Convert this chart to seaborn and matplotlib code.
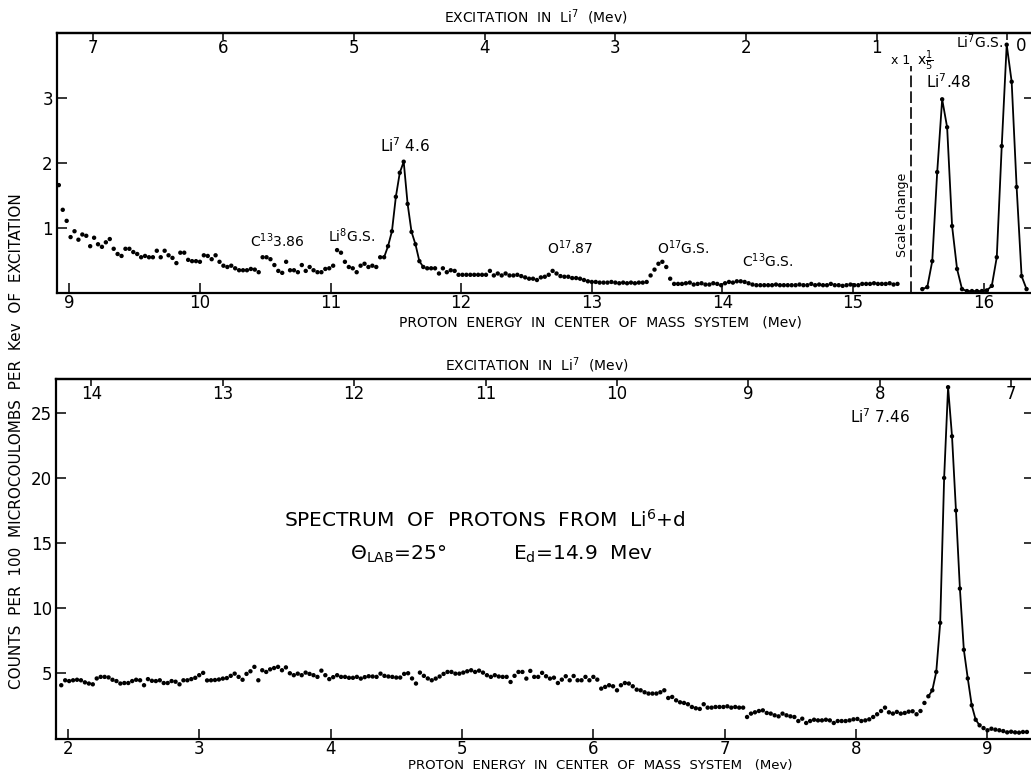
import numpy as np
import pandas as pd
import matplotlib
matplotlib.use("Agg")
import matplotlib.pyplot as plt
import seaborn as sns

# ---------------- data ----------------
# upper panel: proton energy grid start / step (MeV) and counts
top_E0 = 8.92
top_dE = 0.03
top_counts = [
    1.66, 1.28, 1.11, 0.86, 0.95, 0.82, 0.90, 0.88, 0.72, 0.85,
    0.75, 0.71, 0.78, 0.83, 0.68, 0.60, 0.57, 0.68, 0.68, 0.63,
    0.60, 0.55, 0.57, 0.55, 0.55, 0.65, 0.55, 0.65, 0.58, 0.54,
    0.46, 0.62, 0.62, 0.51, 0.49, 0.49, 0.48, 0.58, 0.57, 0.52,
    0.58, 0.48, 0.42, 0.40, 0.42, 0.38, 0.35, 0.35, 0.35, 0.37,
    0.36, 0.32, 0.55, 0.55, 0.52, 0.43, 0.34, 0.31, 0.48, 0.35,
    0.35, 0.32, 0.43, 0.34, 0.40, 0.35, 0.32, 0.32, 0.37, 0.38,
    0.42, 0.66, 0.62, 0.48, 0.40, 0.38, 0.32, 0.42, 0.45, 0.40,
    0.42, 0.40, 0.55, 0.55, 0.72, 0.95, 1.48, 1.85, 2.02, 1.37,
    0.94, 0.75, 0.49, 0.40, 0.38, 0.38, 0.38, 0.30, 0.38, 0.32,
    0.35, 0.34, 0.28, 0.28, 0.28, 0.28, 0.28, 0.28, 0.28, 0.28,
    0.34, 0.27, 0.30, 0.27, 0.30, 0.27, 0.27, 0.28, 0.26, 0.24,
    0.22, 0.22, 0.20, 0.24, 0.25, 0.28, 0.34, 0.30, 0.26, 0.25,
    0.25, 0.23, 0.23, 0.22, 0.20, 0.18, 0.17, 0.17, 0.16, 0.16,
    0.16, 0.17, 0.16, 0.15, 0.16, 0.15, 0.16, 0.15, 0.16, 0.16,
    0.17, 0.27, 0.36, 0.45, 0.48, 0.40, 0.22, 0.14, 0.14, 0.14,
    0.15, 0.16, 0.13, 0.14, 0.15, 0.13, 0.13, 0.15, 0.14, 0.12,
    0.15, 0.17, 0.16, 0.18, 0.18, 0.17, 0.15, 0.13, 0.12, 0.12,
    0.12, 0.12, 0.12, 0.13, 0.12, 0.12, 0.12, 0.12, 0.12, 0.13,
    0.12, 0.12, 0.14, 0.12, 0.13, 0.12, 0.12, 0.14, 0.12, 0.12,
    0.11, 0.12, 0.13, 0.12, 0.12, 0.14, 0.14, 0.14, 0.15, 0.14,
    0.14, 0.14, 0.15, 0.13, 0.14,
]
top_fit_range = (83, 94)          # points joined by the Li7 4.6 curve

# upper panel, x 1/5 region
scaled_E0 = 15.53
scaled_dE = 0.038
scaled_counts = [
    0.06, 0.09, 0.49, 1.86, 2.98, 2.55, 1.03, 0.37, 0.06, 0.03,
    0.03, 0.03, 0.03, 0.04, 0.11, 0.55, 2.26, 3.82, 3.25, 1.63,
    0.26, 0.06,
]
scale_change_E = 15.44

# lower panel
bot_E0 = 1.95
bot_dE = 0.03
bot_counts = [
    4.08, 4.46, 4.40, 4.46, 4.50, 4.46, 4.30, 4.21, 4.15, 4.60,
    4.72, 4.72, 4.68, 4.50, 4.40, 4.21, 4.25, 4.25, 4.40, 4.50,
    4.46, 4.08, 4.55, 4.42, 4.40, 4.46, 4.25, 4.25, 4.40, 4.35,
    4.15, 4.46, 4.46, 4.55, 4.65, 4.85, 5.03, 4.45, 4.46, 4.48,
    4.52, 4.59, 4.63, 4.80, 4.97, 4.72, 4.50, 4.95, 5.15, 5.49,
    4.46, 5.23, 5.10, 5.30, 5.40, 5.49, 5.23, 5.45, 5.00, 4.85,
    4.97, 4.85, 5.05, 4.95, 4.85, 4.72, 5.20, 4.85, 4.55, 4.70,
    4.85, 4.72, 4.72, 4.65, 4.65, 4.72, 4.59, 4.70, 4.77, 4.75,
    4.72, 4.97, 4.80, 4.75, 4.72, 4.67, 4.67, 4.95, 5.00, 4.60,
    4.21, 5.05, 4.80, 4.60, 4.46, 4.59, 4.75, 4.95, 5.10, 5.10,
    4.97, 4.97, 5.05, 5.15, 5.23, 5.10, 5.20, 5.05, 4.85, 4.72,
    4.85, 4.75, 4.72, 4.72, 4.33, 4.80, 5.10, 5.10, 4.59, 5.18,
    4.72, 4.72, 5.03, 4.77, 4.59, 4.66, 4.25, 4.51, 4.77, 4.46,
    4.79, 4.46, 4.46, 4.72, 4.46, 4.72, 4.51, 3.82, 3.95, 4.08,
    4.00, 3.69, 4.08, 4.25, 4.21, 4.00, 3.74, 3.69, 3.54, 3.44,
    3.44, 3.44, 3.54, 3.69, 3.10, 3.18, 2.92, 2.77, 2.72, 2.62,
    2.41, 2.31, 2.26, 2.62, 2.36, 2.36, 2.41, 2.41, 2.41, 2.46,
    2.36, 2.41, 2.36, 2.36, 1.64, 1.90, 2.00, 2.10, 2.15, 1.95,
    1.90, 1.77, 1.69, 1.90, 1.77, 1.69, 1.64, 1.33, 1.51, 1.18,
    1.33, 1.43, 1.38, 1.38, 1.43, 1.38, 1.18, 1.33, 1.33, 1.33,
    1.38, 1.46, 1.49, 1.33, 1.38, 1.46, 1.64, 1.85, 2.10, 2.36,
    2.00, 1.90, 2.03, 1.90, 1.95, 2.05, 2.08, 1.85, 2.10, 2.72,
    3.23, 3.69, 5.10, 8.87, 20.0, 26.97, 23.2, 17.5, 11.5, 6.8,
    4.60, 2.54, 1.43, 1.00, 0.79, 0.62, 0.74, 0.67, 0.62, 0.56,
    0.46, 0.51, 0.46, 0.44, 0.49, 0.49,
]
bot_fit_range = (220, 234)

top_xticks = [9, 10, 11, 12, 13, 14, 15, 16]
top_yticks = [1, 2, 3]
top_exc_ticks = [7, 6, 5, 4, 3, 2, 1, 0]
bot_xticks = [2, 3, 4, 5, 6, 7, 8, 9]
bot_yticks = [5, 10, 15, 20, 25]
bot_exc_ticks = [14, 13, 12, 11, 10, 9, 8, 7]
Q_VALUE = 16.18   # E_p + E_x

# ---------------- build frames ----------------
top_df = pd.DataFrame({"E": top_E0 + top_dE * np.arange(len(top_counts)),
                       "counts": top_counts})
sc_df = pd.DataFrame({"E": scaled_E0 + scaled_dE * np.arange(len(scaled_counts)),
                      "counts": scaled_counts})
bot_df = pd.DataFrame({"E": bot_E0 + bot_dE * np.arange(len(bot_counts)),
                       "counts": bot_counts})

sns.set_theme(style="ticks")
plt.rcParams["font.family"] = ["DejaVu Sans"]
plt.rcParams["mathtext.default"] = "regular"
for key in ["text.color", "axes.labelcolor", "xtick.color", "ytick.color",
            "axes.edgecolor"]:
    plt.rcParams[key] = "black"

W, H = 1031, 771
fig = plt.figure(figsize=(W / 100, H / 100), dpi=100)
fig.patch.set_facecolor("white")

ax1 = fig.add_axes([57 / W, 1 - 293 / H, (1034 - 57) / W, (293 - 33) / H])
ax2 = fig.add_axes([56 / W, 1 - 739 / H, (1034 - 56) / W, (739 - 379) / H])

dot_kw = dict(color="black", s=10, edgecolor="none", linewidth=0, legend=False)
line_kw = dict(color="black", lw=1.3, sort=False, estimator=None, legend=False)

# upper panel
sns.scatterplot(data=top_df, x="E", y="counts", ax=ax1, **dot_kw)
a, b = top_fit_range
sns.lineplot(data=top_df.iloc[a:b], x="E", y="counts", ax=ax1, **line_kw)
sns.scatterplot(data=sc_df, x="E", y="counts", ax=ax1, **dot_kw)
sns.lineplot(data=sc_df, x="E", y="counts", ax=ax1, **line_kw)
ax1.axvline(scale_change_E, ymin=0, ymax=3.50 / 4.0, color="black",
            lw=1.2, linestyle=(0, (7, 2.5)))

# lower panel
sns.scatterplot(data=bot_df, x="E", y="counts", ax=ax2, **dot_kw)
a, b = bot_fit_range
sns.lineplot(data=bot_df.iloc[a:b], x="E", y="counts", ax=ax2, **line_kw)

ax1.set_xlim(8.906, 16.385)
ax1.set_ylim(0, 4.0)
ax2.set_xlim(1.910, 9.354)
ax2.set_ylim(-0.05, 27.6)

for ax, xt, yt, exct in [(ax1, top_xticks, top_yticks, top_exc_ticks),
                         (ax2, bot_xticks, bot_yticks, bot_exc_ticks)]:
    ax.set_xlabel("")
    ax.set_ylabel("")
    ax.set_xticks(xt)
    ax.set_yticks(yt)
    ax.tick_params(direction="in", length=7, width=1.1, labelsize=12,
                   right=True, top=False, pad=3, colors="black")
    ax.tick_params(axis="x", pad=1)
    for sp in ax.spines.values():
        sp.set_linewidth(1.6)
        sp.set_color("black")
        sp.set_visible(True)
    sec = ax.secondary_xaxis("top", functions=(lambda e: Q_VALUE - e,
                                               lambda x: Q_VALUE - x))
    sec.set_xticks(exct)
    labels = [str(v) for v in exct]
    if ax is ax1:
        labels[-1] = ""
    sec.set_xticklabels(labels)
    sec.tick_params(direction="in", length=5, width=1.1, labelsize=12,
                    pad=-17, colors="black")
    sec.spines["top"].set_linewidth(1.6)

ax1.text(16.29, 3.80, "0", ha="center", va="center", fontsize=12)

# annotations, upper panel
ann = dict(fontsize=10, ha="left", va="center")
ax1.text(11.38, 2.26, "Li$^7$ 4.6", fontsize=11, ha="left", va="center")
ax1.text(10.385, 0.80, "C$^{13}$3.86", **ann)
ax1.text(10.98, 0.88, "Li$^8$G.S.", **ann)
ax1.text(12.66, 0.70, "O$^{17}$.87", **ann)
ax1.text(13.50, 0.70, "O$^{17}$G.S.", **ann)
ax1.text(14.15, 0.50, "C$^{13}$G.S.", **ann)
ax1.text(15.56, 3.25, "Li$^7$.48", fontsize=11, ha="left", va="center")
ax1.text(15.79, 3.86, "Li$^7$G.S.", **ann)
ax1.text(15.29, 3.57, "x 1", fontsize=9, ha="left", va="center")
ax1.text(15.49, 3.57, r"x$\frac{1}{5}$", fontsize=10, ha="left", va="center")
ax1.text(15.38, 1.2, "Scale change", fontsize=9, rotation=90,
         ha="center", va="center")

# annotations, lower panel
ax2.text(7.955, 24.7, "Li$^7$ 7.46", fontsize=11, ha="left", va="center")
ax2.text(5.17, 16.8, "SPECTRUM  OF  PROTONS  FROM  Li$^6$+d", fontsize=14.5,
         ha="center", va="center")
ax2.text(4.15, 14.1, r"$\Theta_{LAB}$=25°", fontsize=14.5, ha="left", va="center")
ax2.text(5.386, 14.1, "E$_d$=14.9  Mev", fontsize=14.5, ha="left", va="center")

# axis titles
fig.text(600 / W, 1 - 322 / H, "PROTON  ENERGY  IN  CENTER  OF  MASS  SYSTEM   (Mev)",
         ha="center", va="center", fontsize=10)
fig.text(600 / W, 1 - 765 / H, "PROTON  ENERGY  IN  CENTER  OF  MASS  SYSTEM   (Mev)",
         ha="center", va="center", fontsize=9.5)
fig.text(536 / W, 1 - 17 / H, "EXCITATION  IN  Li$^7$  (Mev)",
         ha="center", va="center", fontsize=10)
fig.text(537 / W, 1 - 365 / H, "EXCITATION  IN  Li$^7$  (Mev)",
         ha="center", va="center", fontsize=10)
fig.text(17 / W, 1 - 441 / H, "COUNTS  PER  100  MICROCOULOMBS  PER  Kev  OF  EXCITATION",
         rotation=90, ha="center", va="center", fontsize=11)

fig.savefig("out.png", dpi=100, facecolor="white")
